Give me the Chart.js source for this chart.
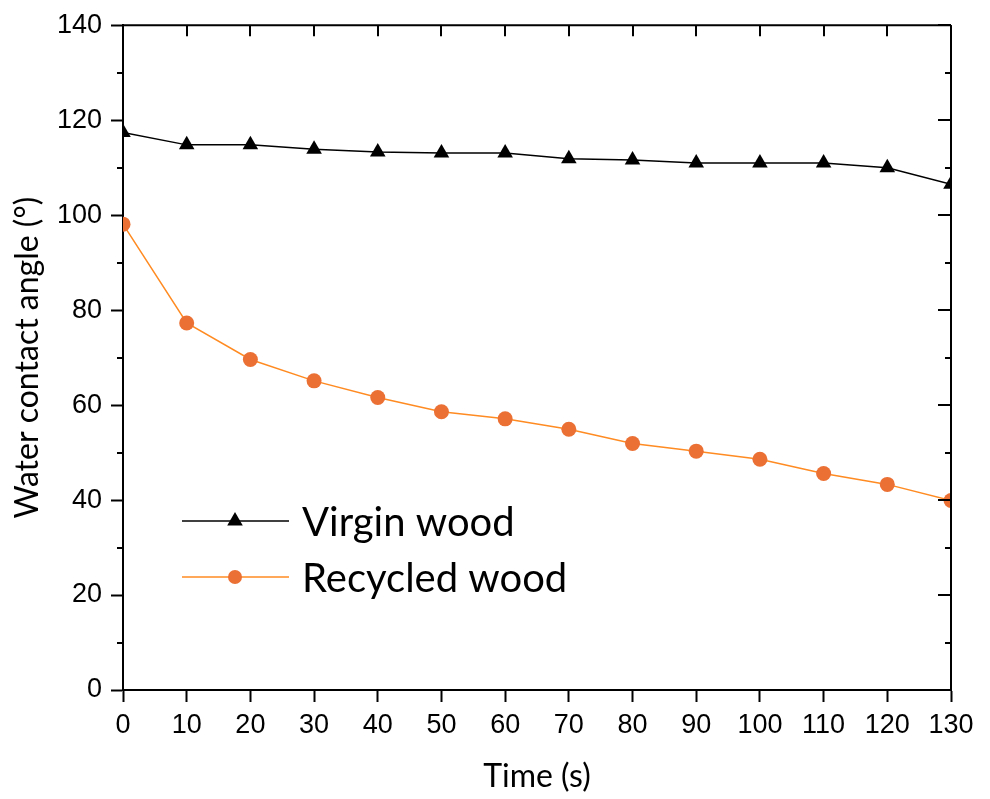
<!DOCTYPE html>
<html>
<head>
<meta charset="utf-8">
<script src="https://cdn.jsdelivr.net/npm/chart.js@4.4.1/dist/chart.umd.min.js"></script>
<style>
  html, body { margin: 0; padding: 0; background: #ffffff; }
  #wrap { width: 990px; height: 799px; }
</style>
</head>
<body>
<div id="wrap"><canvas id="c" width="990" height="799"></canvas></div>
<script>
// Contact angle measurements over time
const timeSeconds = [0, 10, 20, 30, 40, 50, 60, 70, 80, 90, 100, 110, 120, 130];
const virginWood = [117.4, 114.8, 114.8, 113.9, 113.3, 113.1, 113.1, 111.9, 111.6, 111.0, 111.0, 111.0, 110.0, 106.5];
const recycledWood = [98.1, 77.3, 69.6, 65.1, 61.6, 58.6, 57.1, 54.9, 51.9, 50.3, 48.6, 45.6, 43.3, 39.9];
const seriesNames = ['Virgin wood', 'Recycled wood'];
const xTickStep = 10;
const yMajorStep = 20;
const yMinorStep = 10;

const ORANGE_LINE = '#ff8b22';
const ORANGE_MARK = '#eb7034';

// Closed frame: top/right borders, inward ticks on top/right, minor ticks on left
const frameTicks = {
  id: 'frameTicks',
  afterDraw(chart) {
    const { ctx, chartArea: a, scales: { x, y } } = chart;
    ctx.save();
    ctx.strokeStyle = '#000';
    ctx.lineWidth = 2;
    ctx.beginPath();
    ctx.moveTo(a.left, a.top); ctx.lineTo(a.right, a.top);
    ctx.moveTo(a.right, a.top); ctx.lineTo(a.right, a.bottom);
    ctx.stroke();
    ctx.beginPath();
    for (let v = x.min; v <= x.max + 1e-9; v += xTickStep) {
      const px = Math.round(x.getPixelForValue(v));
      ctx.moveTo(px, a.top); ctx.lineTo(px, a.top + 11);
    }
    for (let v = y.min; v <= y.max + 1e-9; v += yMinorStep) {
      const py = Math.round(y.getPixelForValue(v));
      const major = Math.abs(v % yMajorStep) < 1e-9;
      ctx.moveTo(a.right, py); ctx.lineTo(a.right - (major ? 13 : 6), py);
      if (!major) { ctx.moveTo(a.left, py); ctx.lineTo(a.left - 6, py); }
    }
    ctx.stroke();
    ctx.restore();
  }
};

// Legend drawn inside the plot: line sample with marker, then label
const insideLegend = {
  id: 'insideLegend',
  afterDraw(chart) {
    const { ctx } = chart;
    const rows = [536, 592];
    ctx.save();
    chart.data.datasets.forEach((ds, i) => {
      const yb = rows[i];
      const yl = yb - 15;
      ctx.strokeStyle = ds.borderColor;
      ctx.lineWidth = 1.5;
      ctx.beginPath();
      ctx.moveTo(182, yl); ctx.lineTo(289, yl);
      ctx.stroke();
      ctx.fillStyle = ds.pointBackgroundColor;
      ctx.beginPath();
      if (ds.pointStyle === 'triangle') {
        const r = 9;
        ctx.moveTo(235, yl - r);
        ctx.lineTo(235 + r * Math.sin(2 * Math.PI / 3), yl - r * Math.cos(2 * Math.PI / 3));
        ctx.lineTo(235 + r * Math.sin(4 * Math.PI / 3), yl - r * Math.cos(4 * Math.PI / 3));
        ctx.closePath();
      } else {
        ctx.arc(235, yl, 7, 0, Math.PI * 2);
      }
      ctx.fill();
      ctx.fillStyle = '#000';
      ctx.font = '40px Lato';
      ctx.textBaseline = 'alphabetic';
      ctx.textAlign = 'left';
      ctx.fillText(ds.label, 302, yb);
    });
    ctx.restore();
  }
};

const tickFont = { family: 'Liberation Sans', size: 27 };
const titleFont = { family: 'Lato', size: 32 };

new Chart(document.getElementById('c'), {
  type: 'line',
  data: {
    datasets: [
      {
        label: seriesNames[0],
        data: timeSeconds.map((t, i) => ({ x: t, y: virginWood[i] })),
        borderColor: '#000000',
        borderWidth: 1.5,
        pointStyle: 'triangle',
        pointRadius: 9,
        pointBackgroundColor: '#000000',
        pointBorderColor: '#000000',
        pointBorderWidth: 0,
        clip: 0,
        tension: 0
      },
      {
        label: seriesNames[1],
        data: timeSeconds.map((t, i) => ({ x: t, y: recycledWood[i] })),
        borderColor: ORANGE_LINE,
        borderWidth: 1.5,
        pointStyle: 'circle',
        pointRadius: 7.5,
        pointBackgroundColor: ORANGE_MARK,
        pointBorderColor: ORANGE_MARK,
        pointBorderWidth: 0,
        clip: 0,
        tension: 0
      }
    ]
  },
  options: {
    responsive: false,
    animation: false,
    devicePixelRatio: 1,
    layout: { padding: { top: 23, right: 39, left: 0, bottom: 0 } },
    plugins: { legend: { display: false }, tooltip: { enabled: false } },
    scales: {
      x: {
        type: 'linear',
        position: 'bottom',
        min: 0, max: 130,
        afterFit(s) { s.height = 109; },
        ticks: { stepSize: xTickStep, color: '#000', font: tickFont, padding: 7, maxRotation: 0, autoSkip: false },
        grid: { display: true, drawOnChartArea: false, drawTicks: true, tickLength: 12, tickWidth: 2, tickColor: '#000' },
        border: { display: true, color: '#000', width: 2 },
        title: { display: true, text: 'Time (s)', color: '#000', font: titleFont, padding: { top: 0, bottom: 3 } }
      },
      y: {
        type: 'linear',
        position: 'left',
        min: 0, max: 140,
        afterFit(s) { s.width = 123; },
        ticks: { stepSize: yMajorStep, color: '#000', font: tickFont, padding: 9 },
        grid: { display: true, drawOnChartArea: false, drawTicks: true, tickLength: 12, tickWidth: 2, tickColor: '#000' },
        border: { display: true, color: '#000', width: 2 },
        title: { display: true, text: 'Water contact angle (°)', color: '#000', font: titleFont, padding: { top: 8, bottom: 0 } }
      }
    }
  },
  plugins: [frameTicks, insideLegend]
});
</script>
</body>
</html>
